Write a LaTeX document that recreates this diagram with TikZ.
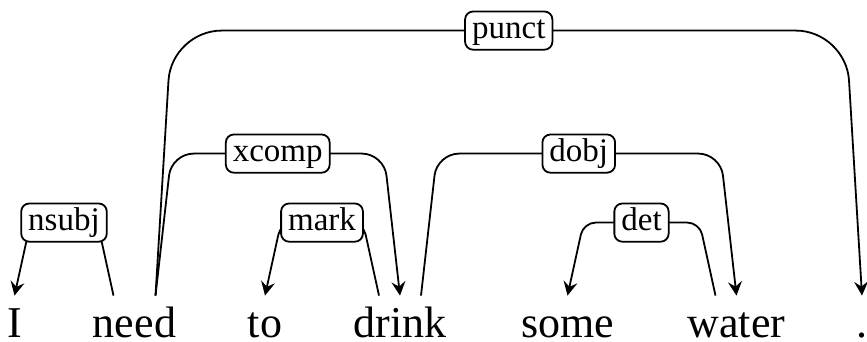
\documentclass[tikz,border=0pt]{standalone}
\usepackage{fontspec}
\setmainfont{Liberation Serif}
\usetikzlibrary{arrows.meta}

\begin{document}
\begin{tikzpicture}[
  x=0.5pt, y=0.5pt,
  word/.style={anchor=base, inner sep=0pt, text height=21pt, text depth=0pt,
               font=\fontsize{22}{26}\selectfont},
  lbl/.style={rectangle, rounded corners=4pt, draw=black, line width=0.9pt,
              fill=white, inner xsep=3.5pt, inner ysep=2pt, pos=0.5,
              text height=11.5pt, text depth=3.6pt,
              font=\fontsize{16.5}{20}\selectfont},
  edge/.style={-{Stealth[length=7pt, width=7pt, inset=2.5pt]}, line width=0.9pt},
  low/.style={edge, rounded corners=6pt},
  mid/.style={edge, rounded corners=11pt},
  high/.style={edge, rounded corners=25pt}
]
\useasboundingbox (0,0) rectangle (867,342);
\node[word] (i)     at (14.5,4)  {I};
\node[word] (need)  at (134.5,4) {need};
\node[word] (to)    at (265,4)   {to};
\node[word] (drink) at (400,4)   {drink};
\node[word] (some)  at (567.5,4) {some};
\node[word] (water) at (736.5,4) {water};
\node[word] (dot)   at (862,4)   {.};
\draw[low]  ([xshift=-10.5pt]need.north) -- ++(-8pt,36.5pt)
  -- node[lbl] (nsubj) {nsubj} ([xshift=8pt, yshift=36.5pt]i.north) -- (i.north);
\draw[high] ([xshift=10.5pt]need.north) -- ++(8pt,132.5pt)
  -- node[lbl] (punct) {punct} ([xshift=-8pt, yshift=132.5pt]dot.north) -- (dot.north);
\draw[mid]  ([xshift=10.5pt]need.north) -- ++(8pt,71pt)
  -- node[lbl] (xcomp) {xcomp} ([xshift=-8pt, yshift=71pt]drink.north) -- (drink.north);
\draw[low]  ([xshift=-10.5pt]drink.north) -- ++(-8pt,36.5pt)
  -- node[lbl] (mark) {mark} ([xshift=8pt, yshift=36.5pt]to.north) -- (to.north);
\draw[mid]  ([xshift=10.5pt]drink.north) -- ++(8pt,71pt)
  -- node[lbl] (dobj) {dobj} ([xshift=-8pt, yshift=71pt]water.north) -- (water.north);
\draw[low]  ([xshift=-10.5pt]water.north) -- ++(-8pt,36.5pt)
  -- node[lbl] (det) {det} ([xshift=8pt, yshift=36.5pt]some.north) -- (some.north);
\end{tikzpicture}
\end{document}
